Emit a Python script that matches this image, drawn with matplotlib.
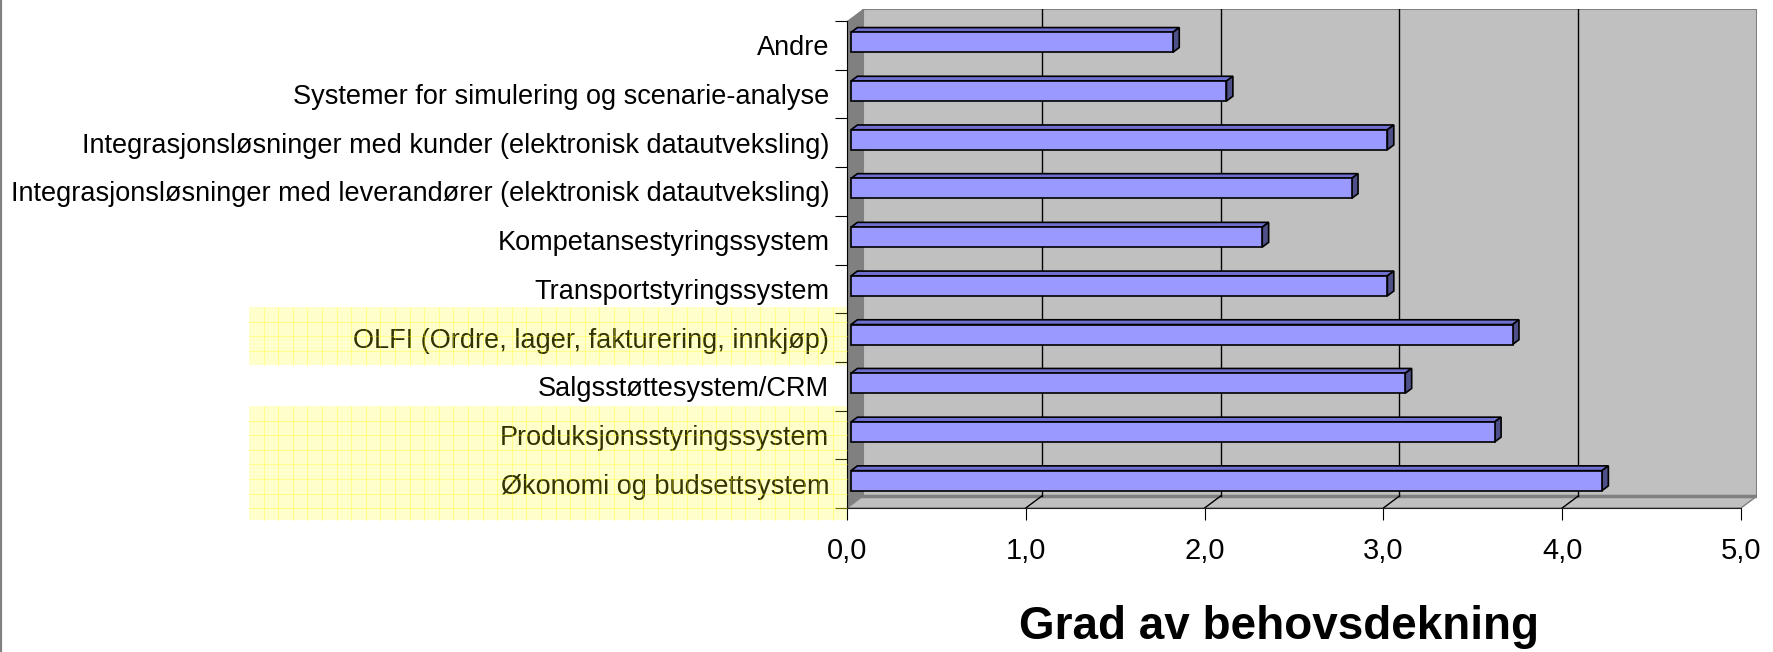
import matplotlib
matplotlib.use('Agg')
import matplotlib.pyplot as plt
from matplotlib.patches import Rectangle, Polygon
from matplotlib.lines import Line2D
import numpy as np

plt.rcParams['font.family'] = ['Liberation Sans', 'DejaVu Sans']

categories = ['Økonomi og budsettsystem',
              'Produksjonsstyringssystem',
              'Salgsstøttesystem/CRM',
              'OLFI (Ordre, lager, fakturering, innkjøp)',
              'Transportstyringssystem',
              'Kompetansestyringssystem',
              'Integrasjonsløsninger med leverandører (elektronisk datautveksling)',
              'Integrasjonsløsninger med kunder (elektronisk datautveksling)',
              'Systemer for simulering og scenarie-analyse',
              'Andre']
values = [4.2, 3.6, 3.1, 3.7, 3.0, 2.3, 2.8, 3.0, 2.1, 1.8]
xticks = [0, 1, 2, 3, 4, 5]
xticklabels = ['0,0', '1,0', '2,0', '3,0', '4,0', '5,0']
title = 'Grad av behovsdekning'

W, H = 1774, 652
fig = plt.figure(figsize=(W / 100, H / 100), dpi=100)

# plot box in pixels (front-left x, back-right x, top y, front-bottom y)
x0px, x1px, ytop, ybot = 847, 1757, 9, 508
ppu = (1741 - 847) / 5.0       # pixels per value unit
cat_px = (ybot - 21) / 10.0     # pixels per category
dx = 16 / ppu                   # depth offset in data units
dy = 12 / cat_px

ax = fig.add_axes([x0px / W, 1 - ybot / H, (x1px - x0px) / W, (ybot - ytop) / H])
ax.set_xlim(0, 5 + dx)
ax.set_ylim(-0.5, 9.5 + dy)
ax.patch.set_visible(False)
n = len(categories)
xmax = xticks[-1]

# walls
ax.add_patch(Rectangle((dx, -0.5 + dy), xmax, n, fc='#C0C0C0', ec='#808080', lw=1.5, zorder=1))
ax.add_patch(Polygon([(0, -0.5), (dx, -0.5 + dy), (dx, n - 0.5 + dy), (0, n - 0.5)],
                     closed=True, fc='#808080', ec='none', zorder=2))
ax.add_patch(Polygon([(0, -0.5), (dx, -0.5 + dy), (xmax + dx, -0.5 + dy), (xmax, -0.5)],
                     closed=True, fc='#C0C0C0', ec='#808080', lw=1, zorder=2))
ax.plot([dx, xmax + dx], [-0.5 + dy, -0.5 + dy], color='#808080', lw=2.5, zorder=2)

# gridlines on wall and floor
for v in xticks[1:-1]:
    ax.plot([v + dx, v + dx], [-0.5 + dy, n - 0.5 + dy], color='black', lw=1, zorder=3)
    ax.plot([v, v + dx], [-0.5, -0.5 + dy], color='black', lw=1, zorder=3)

# 3D bars
f0, f1 = 0.25, 0.65
h = 0.41
pos = np.arange(n)
ax.barh(pos + f0 * dy, values, left=f0 * dx, height=h, color='#9999FF',
        edgecolor='black', linewidth=1.2, zorder=5)
for y, v in zip(pos, values):
    yt = y + h / 2
    yb = y - h / 2
    top = [(f0 * dx, yt + f0 * dy), (v + f0 * dx, yt + f0 * dy),
           (v + f1 * dx, yt + f1 * dy), (f1 * dx, yt + f1 * dy)]
    side = [(v + f0 * dx, yb + f0 * dy), (v + f0 * dx, yt + f0 * dy),
            (v + f1 * dx, yt + f1 * dy), (v + f1 * dx, yb + f1 * dy)]
    ax.add_patch(Polygon(top, closed=True, fc='#6F6FCF', ec='black', lw=1.2, zorder=4))
    ax.add_patch(Polygon(side, closed=True, fc='#4F4F8A', ec='black', lw=1.2, zorder=4))

# axes and ticks
for s in ['top', 'right']:
    ax.spines[s].set_visible(False)
ax.spines['left'].set_bounds(-0.5, n - 0.5)
ax.spines['bottom'].set_bounds(0, xmax)
ax.spines['left'].set_zorder(6)
ax.spines['bottom'].set_color('#202020')
ax.set_yticks(pos)
ax.set_yticklabels(categories, fontsize=19.5)
ax.set_yticks(np.arange(n + 1) - 0.5, minor=True)
ax.tick_params(axis='y', which='major', length=0, pad=12.7)
ax.tick_params(axis='y', which='minor', length=8.64, width=0.8, direction='out')
ax.set_xticks(xticks)
ax.set_xticklabels(xticklabels, fontsize=21)
ax.tick_params(axis='x', length=8.64, width=0.8, direction='out', pad=12)

fig.text(1279 / W, 1 - 639 / H, title, ha='center', va='baseline',
         fontsize=33, fontweight='bold')

# yellow highlight boxes behind selected labels (pixel layout)
boxes = [(249, 307, 847, 365), (249, 406, 847, 520)]
step = 14.6
for (l, t, r, b) in boxes:
    fig.add_artist(Rectangle((l / W, 1 - b / H), (r - l) / W, (b - t) / H,
                             transform=fig.transFigure, fc='yellow', alpha=0.2,
                             ec='none', zorder=10))
    gx = l + step
    while gx < r:
        fig.add_artist(Line2D([gx / W, gx / W], [1 - b / H, 1 - t / H],
                              transform=fig.transFigure, color='yellow', alpha=0.3,
                              lw=0.8, zorder=11))
        gx += step
    gy = t + step
    while gy < b:
        fig.add_artist(Line2D([l / W, r / W], [1 - gy / H, 1 - gy / H],
                              transform=fig.transFigure, color='yellow', alpha=0.3,
                              lw=0.8, zorder=11))
        gy += step

# left border of the chart area
fig.add_artist(Line2D([1 / W, 1 / W], [0, 1], transform=fig.transFigure,
                      color='#808080', lw=1.6, zorder=12))

fig.savefig('out.png', dpi=100)
